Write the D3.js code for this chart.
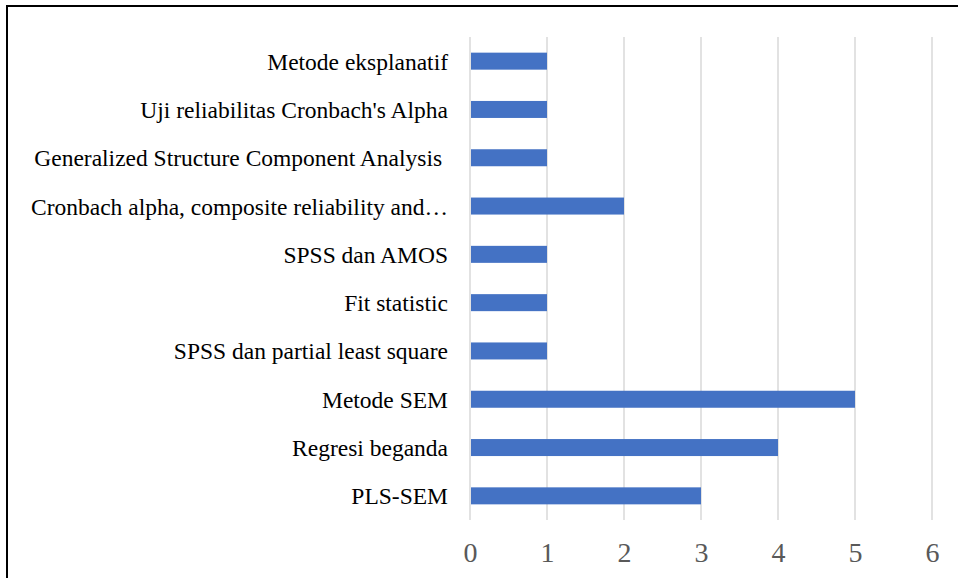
<!DOCTYPE html>
<html>
<head>
<meta charset="utf-8">
<script src="https://cdn.jsdelivr.net/npm/d3@7"></script>
<style>
  body { margin: 0; background: #fff; }
  svg text { font-family: "Liberation Serif", "Times New Roman", Times, serif; white-space: pre; }
</style>
</head>
<body>
<div id="chart"></div>
<script>
// categories, bottom to top as in the picture
var categories = ["PLS-SEM", "Regresi beganda", "Metode SEM", "SPSS dan partial least square",
  "Fit statistic", "SPSS dan AMOS", "Cronbach alpha, composite reliability and\u2026",
  "Generalized Structure Component Analysis ", "Uji reliabilitas Cronbach's Alpha", "Metode eksplanatif"];
var counts = [3, 4, 5, 1, 1, 1, 2, 1, 1, 1];
var xTicks = [0, 1, 2, 3, 4, 5, 6];

var W = 958, H = 578;
var margin = {top: 37, left: 470};

var svg = d3.select("#chart")
    .append("svg")
    .attr("width", W)
    .attr("height", H);

// outer frame (only left and top edges visible)
svg.append("rect")
    .attr("x", 7).attr("y", 6)
    .attr("width", W + 20).attr("height", H + 20)
    .style("fill", "none")
    .style("stroke", "#000")
    .style("stroke-width", 2);

var g = svg.append("g")
    .attr("transform", "translate(" + margin.left + "," + margin.top + ")");

var x = d3.scaleLinear().domain([0, 6]).range([0, 462]);
var y = d3.scaleBand()
    .domain(categories.slice().reverse())
    .range([0, 483])
    .paddingInner(0.648)
    .paddingOuter(0.324);

// gridlines
g.selectAll(".grid")
    .data(xTicks)
    .enter().append("line")
    .attr("x1", function(d) { return x(d); })
    .attr("x2", function(d) { return x(d); })
    .attr("y1", 0)
    .attr("y2", 483)
    .style("stroke", "#d9d9d9")
    .style("stroke-width", 1.5);

// bars
g.selectAll(".bar")
    .data(categories)
    .enter().append("rect")
    .attr("x", x(0) + 1)
    .attr("y", function(d) { return y(d); })
    .attr("width", function(d, i) { return x(counts[i]) - x(0) - 1; })
    .attr("height", y.bandwidth())
    .style("fill", "#4472c4");

// category labels
g.selectAll(".cat")
    .data(categories)
    .enter().append("text")
    .attr("x", -22)
    .attr("y", function(d) { return y(d) + y.bandwidth() / 2 + 8.5; })
    .attr("text-anchor", "end")
    .attr("font-size", 23.5)
    .attr("fill", "#000")
    .text(function(d) { return d; });

// x axis labels
var xAxis = g.append("g")
    .attr("transform", "translate(0,483)")
    .call(d3.axisBottom(x).tickValues(xTicks).tickFormat(d3.format("d")).tickSize(0));
xAxis.select(".domain").remove();
xAxis.attr("font-family", null).attr("font-size", null);
xAxis.selectAll("text")
    .attr("y", 42)
    .attr("dy", null)
    .attr("font-size", 28)
    .attr("fill", "#595959");
</script>
</body>
</html>
